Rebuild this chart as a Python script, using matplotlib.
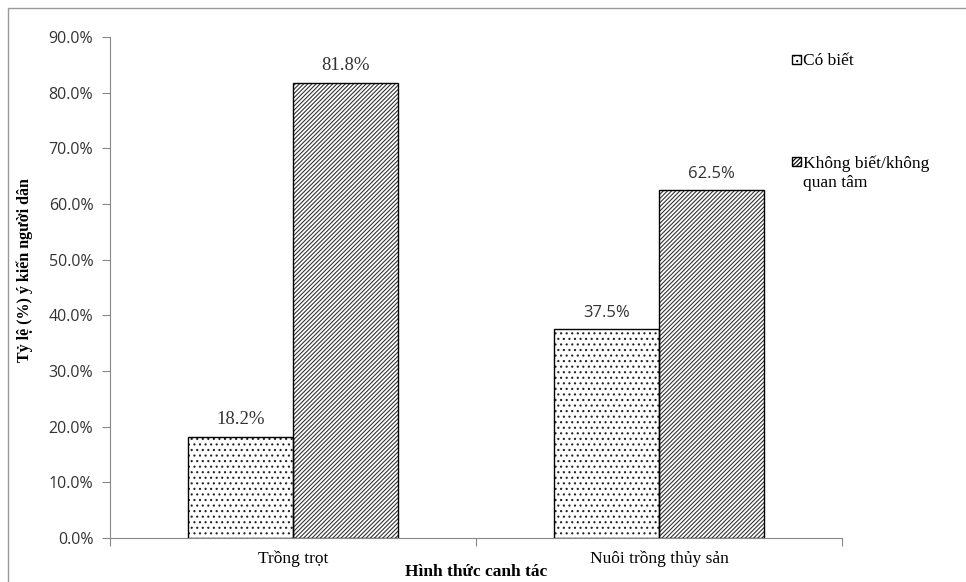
import matplotlib.pyplot as plt
import matplotlib.patches as mpatches
import numpy as np

categories = ["Trồng trọt", "Nuôi trồng thủy sản"]
series_names = ["Có biết", "Không biết/không\nquan tâm"]
co_biet = [18.2, 37.5]
khong_biet = [81.8, 62.5]
y_ticks = [0, 10, 20, 30, 40, 50, 60, 70, 80, 90]

plt.rcParams['hatch.linewidth'] = 0.8
serif = "Liberation Serif"
sans = "Open Sans"

fig = plt.figure(figsize=(9.66, 5.82), dpi=100)
ax = fig.add_axes([110 / 966, 44 / 582, 732 / 966, 501 / 582])

x = np.arange(len(categories))
w = 0.287
dots = "..."
lines = "////////"
# hatch fill first (edge colour sets the hatch colour), then a black outline on top
ax.bar(x - w / 2, co_biet, w, color="white", edgecolor="#222222", hatch=dots, linewidth=0)
ax.bar(x + w / 2, khong_biet, w, color="white", edgecolor="#333333", hatch=lines, linewidth=0)
b1 = ax.bar(x - w / 2, co_biet, w, fill=False, edgecolor="black", linewidth=1.0)
b2 = ax.bar(x + w / 2, khong_biet, w, fill=False, edgecolor="black", linewidth=1.0)

# value labels: first category in serif, second in sans
for bars in (b1, b2):
    for i, rect in enumerate(bars):
        val = rect.get_height()
        fam = serif if i == 0 else sans
        size = 13.5 if i == 0 else 12
        ax.annotate("{:.1f}%".format(val), (rect.get_x() + rect.get_width() / 2, val),
                    textcoords="offset points", xytext=(0, 6), ha="center", va="bottom",
                    fontsize=size, family=fam, color="#333333")

ax.set_xlim(-0.5, 1.5)
ax.set_ylim(0, 90)
ax.set_yticks(y_ticks)
ax.set_yticklabels(["{:.1f}%".format(t) for t in y_ticks], family=sans, fontsize=11.5,
                   color="#333333")
ax.set_xticks([-0.5, 0.5, 1.5])
ax.set_xticklabels([])
ax.set_xticks(x, minor=True)
ax.set_xticklabels(categories, minor=True, family=serif, fontsize=12.5)
ax.tick_params(axis="x", which="minor", length=0, pad=9)
ax.tick_params(axis="x", which="major", length=6, color="#888888")
ax.tick_params(axis="y", length=6, color="#888888", pad=6)
ax.spines["top"].set_visible(False)
ax.spines["right"].set_visible(False)
ax.spines["left"].set_color("#888888")
ax.spines["bottom"].set_color("#888888")

# y title sits a little above the axis centre
fig.text(25 / 966, 1 - 270 / 582, "Tỷ lệ (%) ý kiến người dân", family=serif,
         fontsize=11.5, fontweight="bold", rotation=90, ha="center", va="center")
ax.set_xlabel("Hình thức canh tác", family=serif, fontsize=12.5,
              fontweight="bold", labelpad=-2)

# outer chart frame, running off the right and bottom edges
fig.patches.append(mpatches.Rectangle((8 / 966, -0.05), 1.0, 1 - 8 / 582 + 0.05,
                                      transform=fig.transFigure, fill=False,
                                      edgecolor="#999999", linewidth=1.0))

# legend entries drawn by hand
legend_y = [1 - 60 / 582, 1 - 162 / 582]
hatches = [dots, lines]
for name, hy, h in zip(series_names, legend_y, hatches):
    fig.patches.append(mpatches.Rectangle((792 / 966, hy - 4 / 582), 9 / 966, 9 / 582,
                                          transform=fig.transFigure, facecolor="white",
                                          edgecolor="black", hatch=h, linewidth=1.0))
    fig.text(803 / 966, hy + 7 / 582, name, family=serif, fontsize=12.5, va="top",
             ha="left", linespacing=1.3)

fig.savefig("out.png", dpi=100)
